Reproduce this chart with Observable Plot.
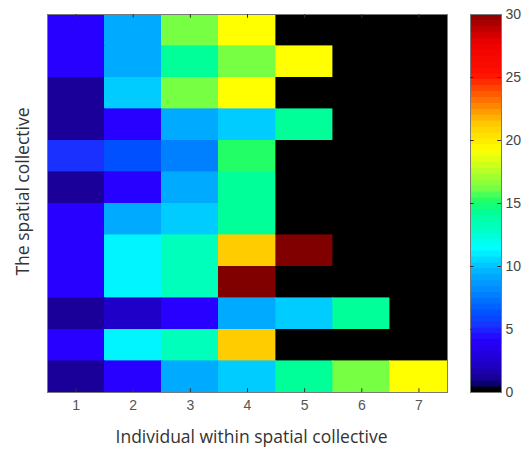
<!DOCTYPE html>
<html>
<head>
<meta charset="utf-8">
<script src="https://cdn.jsdelivr.net/npm/d3@7"></script>
<script src="https://cdn.jsdelivr.net/npm/@observablehq/plot@0.6"></script>
<style>
  html, body { margin: 0; padding: 0; background: #fff; }
  #wrap { display: flex; width: 526px; height: 450px; }
</style>
</head>
<body>
<div id="wrap"></div>
<script>
// ---- data ----
const individuals = [1, 2, 3, 4, 5, 6, 7];
const collectives = [1, 2, 3, 4, 5, 6, 7, 8, 9, 10, 11, 12]; // top to bottom
const values = [
  [4, 9, 16, 19, 0, 0, 0],
  [4, 9, 14, 16, 19, 0, 0],
  [1, 10, 16, 19, 0, 0, 0],
  [1, 4, 9, 10, 14, 0, 0],
  [5, 6, 7.5, 15, 0, 0, 0],
  [1, 4, 9, 14, 0, 0, 0],
  [4, 9, 10, 14, 0, 0, 0],
  [4, 11, 13, 21, 30, 0, 0],
  [4, 11, 13, 30, 0, 0, 0],
  [1, 2, 4, 9, 10, 14, 0],
  [4, 11, 13, 21, 0, 0, 0],
  [1, 4, 9, 10, 14, 16, 19]
];
const colorTicks = [0, 5, 10, 15, 20, 25, 30];
const xLabel = "Individual within spatial collective";
const yLabel = "The spatial collective";

// jet-like palette with black for zero (stops)
const paletteStops = [0, 0.46, 0.47, 1, 2, 4, 5, 6, 7.5, 9, 10, 11.25, 12.5, 14, 15, 16, 17.5, 19, 21, 23, 25, 27.5, 30];
const paletteColors = ["#000000", "#000000", "#0a0080", "#1a0099", "#1e00c8", "#2800ff", "#1a30ff", "#0050ff",
  "#0080ff", "#00aaff", "#00ccff", "#00ffff", "#00ffcc", "#00ff99", "#22ff66", "#77ff44", "#c0ff20",
  "#ffff00", "#ffcc00", "#ff7000", "#ff1000", "#ee0000", "#800000"];

const colorScale = {
  type: "linear",
  domain: paletteStops,
  range: paletteColors,
  interpolate: "rgb",
  clamp: true
};

const cells = [];
values.forEach((row, i) => row.forEach((v, j) => {
  cells.push({collective: collectives[i], individual: individuals[j], value: v});
}));

const labelFont = "'Open Sans', 'DejaVu Sans', sans-serif";
const tickFont = "'Liberation Sans', Arial, sans-serif";

const main = Plot.plot({
  width: 460,
  height: 450,
  marginLeft: 47,
  marginRight: 13,
  marginTop: 14,
  marginBottom: 58,
  style: {fontFamily: tickFont, fontSize: "14px", color: "#555", background: "white", overflow: "visible"},
  x: {domain: [0.5, 7.5], label: null},
  y: {domain: [12.5, 0.5], axis: null, label: null},
  color: colorScale,
  marks: [
    Plot.rect(cells, {
      x1: d => d.individual - 0.5,
      x2: d => d.individual + 0.5,
      y1: d => d.collective - 0.5,
      y2: d => d.collective + 0.5,
      fill: "value",
      stroke: "value",
      strokeWidth: 0.6,
      shapeRendering: "crispEdges"
    }),
    Plot.frame({stroke: "#7a7a7a"}),
    Plot.ruleX(individuals, {x: d => d, y1: 12.5, y2: 12.38, stroke: "#333", strokeWidth: 1}),
    Plot.ruleX(individuals, {x: d => d, y1: 0.5, y2: 0.62, stroke: "#333", strokeWidth: 1}),
    Plot.axisX({ticks: individuals, tickFormat: d => String(d), tickSize: 0, tickPadding: 8,
      fontSize: 14, fontFamily: tickFont, label: null, fill: "#555"}),
    Plot.text([xLabel], {
      text: d => d, frameAnchor: "bottom", textAnchor: "middle", dx: 4, dy: 50, lineAnchor: "bottom",
      fontSize: 17.5, fontFamily: labelFont, fill: "#333"
    }),
    Plot.text([yLabel], {
      text: d => d, frameAnchor: "left", textAnchor: "middle", dx: -19, dy: -12, rotate: -90, lineAnchor: "bottom",
      fontSize: 17.5, fontFamily: labelFont, fill: "#333"
    })
  ]
});

// colour bar: 64 discrete bands over the colour domain
const step = 30 / 64;
const bands = d3.range(64).map(i => ({lo: i * step, hi: (i + 1) * step}));
const innerTicks = colorTicks.filter(t => t > 0 && t < 30);

const bar = Plot.plot({
  width: 66,
  height: 450,
  marginLeft: 10,
  marginRight: 25,
  marginTop: 14,
  marginBottom: 58,
  style: {fontFamily: tickFont, fontSize: "14px", color: "#444", background: "white", overflow: "visible"},
  x: {domain: [0, 1], axis: null},
  y: {domain: [0, 30], axis: null},
  color: colorScale,
  marks: [
    Plot.rect(bands, {x1: 0, x2: 1, y1: "lo", y2: "hi", fill: "lo", stroke: "lo", strokeWidth: 0.6, shapeRendering: "crispEdges"}),
    Plot.frame({stroke: "#7a7a7a"}),
    Plot.ruleY(innerTicks, {y: d => d, x1: 0, x2: 0.12, stroke: "#333"}),
    Plot.ruleY(innerTicks, {y: d => d, x1: 0.88, x2: 1, stroke: "#333"}),
    Plot.axisY({anchor: "right", ticks: colorTicks, tickFormat: d => String(d), tickSize: 0, tickPadding: 4,
      fontSize: 14, fontFamily: tickFont, label: null, fill: "#444"})
  ]
});

document.getElementById("wrap").append(main, bar);
</script>
</body>
</html>
